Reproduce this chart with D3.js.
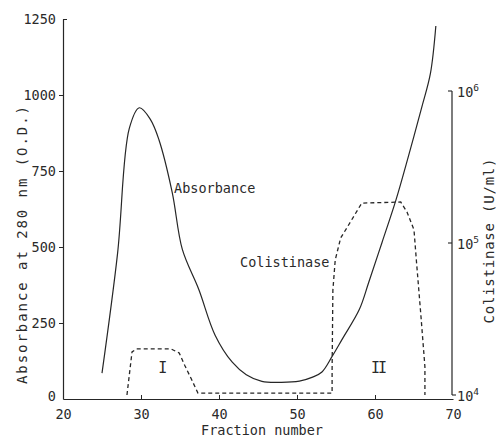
<!DOCTYPE html>
<html>
<head>
<meta charset="utf-8">
<script src="https://cdn.jsdelivr.net/npm/d3@7"></script>
<style>
  body { margin: 0; background: #fff; }
  text { font-family: "DejaVu Sans Mono", monospace; fill: #2a2a2a; }
</style>
</head>
<body>
<div id="chart"></div>
<script>
// absorbance at 280 nm
var absFraction = [25, 27, 28.5, 29.8, 31.2, 32.3, 34, 35.3, 37.4, 39.5, 41.7, 43.5, 45.5, 48, 50.3, 52, 53.2, 54.5, 55.8, 58, 59.2, 60.9, 62.7, 64.3, 66, 67.1, 67.8];
var absValue    = [85, 480, 890, 958, 920, 853, 680, 492, 361, 210, 121, 80, 58, 55, 59, 72, 89, 140, 197, 295, 384, 515, 656, 800, 960, 1070, 1227];

// colistinase activity (U/ml), dashed curve
var colFraction = [28.2, 28.85, 29.4, 33.85, 34.9, 35.6, 36.5, 37.3, 54.5, 54.5, 54.6, 54.9, 55.6, 56.4, 58.3, 63.3, 64.1, 65.0, 65.3, 65.9, 66.4, 66.4];
var colValue    = [10000, 19200, 20100, 20100, 18900, 15700, 12600, 10300, 10300, 14600, 49000, 77300, 108000, 126000, 183000, 186000, 160000, 122000, 77300, 32600, 15300, 10000];

var xTicks = [20, 30, 40, 50, 60, 70];
var yTicks = [0, 250, 500, 750, 1000, 1250];
var rTicks = [4, 5, 6]; // powers of ten

var width = 496, height = 438;

var svg = d3.select("#chart").append("svg")
  .attr("width", width)
  .attr("height", height);

var x = d3.scaleLinear().domain([20, 70]).range([63, 453]);
var y = d3.scaleLinear().domain([0, 1250]).range([399, 19]);
var yr = d3.scaleLog().domain([1e4, 1e6]).range([395, 91]);

var ink = "#262626";

// bottom axis, ticks point up
var xAxis = svg.append("g").attr("transform", "translate(0," + y(0) + ")")
  .call(d3.axisBottom(x).tickValues(xTicks).tickFormat(d3.format("d")).tickSize(-4).tickPadding(10).tickSizeOuter(0));
xAxis.select(".domain").attr("stroke", ink).attr("stroke-width", 1.2);
xAxis.selectAll(".tick line").attr("stroke", ink);
xAxis.selectAll(".tick text").attr("font-size", 13.5).attr("font-family", "DejaVu Sans Mono").attr("fill", "#2a2a2a");
xAxis.selectAll(".tick").filter(function(d) { return d == 20 || d == 70; }).select("line").remove();

// left axis
var yAxis = svg.append("g").attr("transform", "translate(" + x(20) + ",0)")
  .call(d3.axisLeft(y).tickValues(yTicks).tickFormat(d3.format("d")).tickSize(4).tickPadding(3).tickSizeOuter(0));
yAxis.select(".domain").attr("stroke", ink).attr("stroke-width", 1.2);
yAxis.selectAll(".tick line").attr("stroke", ink);
yAxis.selectAll(".tick text").attr("font-size", 13.5).attr("font-family", "DejaVu Sans Mono").attr("fill", "#2a2a2a");
yAxis.selectAll(".tick").filter(function(d) { return d == 0; }).select("line").remove();
yAxis.selectAll(".tick").filter(function(d) { return d == 0; }).select("text").attr("dy", "0.1em");
yAxis.selectAll(".tick").filter(function(d) { return d == 1250; }).select("line").attr("x2", 4);

// right log axis, drawn by hand for the 10^n labels
var rx = 452;
svg.append("line")
  .attr("x1", rx).attr("x2", rx)
  .attr("y1", yr(1e6)).attr("y2", yr(1e4))
  .attr("stroke", ink).attr("stroke-width", 1.2);
rTicks.forEach(function(p) {
  var yy = yr(Math.pow(10, p));
  var dir = p == 4 ? 1 : -1;
  svg.append("line")
    .attr("x1", rx).attr("x2", rx + dir * 4)
    .attr("y1", yy).attr("y2", yy)
    .attr("stroke", ink).attr("stroke-width", 1.1);
  var t = svg.append("text")
    .attr("x", rx + 5)
    .attr("y", yy + 6)
    .attr("font-size", 13.5);
  t.append("tspan").text("10");
  t.append("tspan").attr("dy", -6).attr("font-size", 9.5).text(p);
});

// axis titles
svg.append("text")
  .attr("transform", "translate(27,245) rotate(-90)")
  .attr("text-anchor", "middle")
  .attr("font-size", 14)
  .attr("textLength", 278)
  .attr("lengthAdjust", "spacing")
  .text("Absorbance at 280 nm (O.D.)");

svg.append("text")
  .attr("transform", "translate(494,241) rotate(-90)")
  .attr("text-anchor", "middle")
  .attr("font-size", 14)
  .attr("textLength", 165)
  .attr("lengthAdjust", "spacing")
  .text("Colistinase (U/ml)");

svg.append("text")
  .attr("x", 262).attr("y", 435)
  .attr("text-anchor", "middle")
  .attr("font-size", 13.5)
  .text("Fraction number");

// absorbance curve
var absData = absFraction.map(function(f, i) { return [f, absValue[i]]; });
svg.append("path")
  .datum(absData)
  .attr("fill", "none")
  .attr("stroke", ink)
  .attr("stroke-width", 1.2)
  .attr("d", d3.line()
    .x(function(d) { return x(d[0]); })
    .y(function(d) { return y(d[1]); })
    .curve(d3.curveCatmullRom.alpha(0.5)));

// colistinase curve, dashed
var colData = colFraction.map(function(f, i) { return [f, colValue[i]]; });
svg.append("path")
  .datum(colData)
  .attr("fill", "none")
  .attr("stroke", ink)
  .attr("stroke-width", 1.3)
  .attr("stroke-dasharray", "4,3")
  .attr("d", d3.line()
    .x(function(d) { return x(d[0]); })
    .y(function(d) { return yr(d[1]); }));

// labels on the curves
svg.append("text").attr("x", 174).attr("y", 193).attr("font-size", 13.5).text("Absorbance");
svg.append("text").attr("x", 240).attr("y", 267).attr("font-size", 13.5).text("Colistinase");

// peak numerals
svg.append("text").attr("x", x(32.8)).attr("y", 373)
  .attr("text-anchor", "middle").attr("font-family", "DejaVu Serif").attr("font-size", 15).text("I");
svg.append("text").attr("x", x(60.4)).attr("y", 373)
  .attr("text-anchor", "middle").attr("font-family", "DejaVu Serif").attr("font-size", 15)
  .attr("letter-spacing", -2).text("II");
</script>
</body>
</html>
